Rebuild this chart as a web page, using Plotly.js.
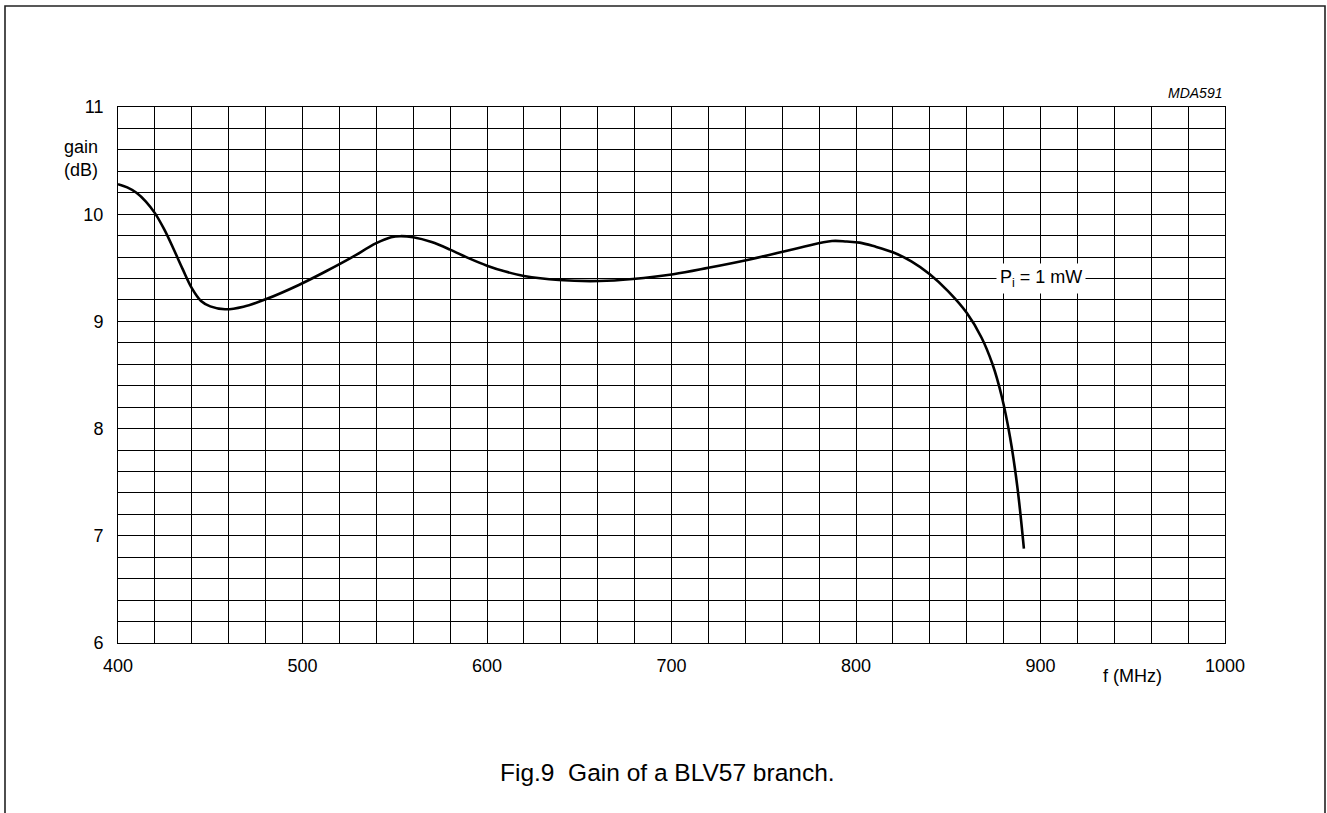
<!DOCTYPE html>
<html>
<head>
<meta charset="utf-8">
<script src="https://cdn.plot.ly/plotly-3.0.1.min.js"></script>
<style>
  html, body { margin: 0; padding: 0; background: #fff; }
  #chart { width: 1327px; height: 813px; }
</style>
</head>
<body>
<div id="chart"></div>
<script>
// Frequency (MHz) and gain (dB)
const freqMHz = [400, 405, 410, 415, 420, 425, 430, 435, 440, 445, 450, 458, 468, 480, 498, 513, 526, 540, 548, 553, 560, 570, 580, 590, 600, 610, 620, 639, 661, 679, 701, 720, 743, 770, 787, 795, 802, 810, 820, 830, 840, 850, 860, 868, 874, 879, 883.5, 887.5, 891];
const gainDB  = [10.28, 10.25, 10.20, 10.12, 10.01, 9.86, 9.68, 9.49, 9.31, 9.19, 9.14, 9.113, 9.137, 9.206, 9.34, 9.47, 9.59, 9.73, 9.785, 9.795, 9.785, 9.74, 9.67, 9.59, 9.52, 9.465, 9.424, 9.386, 9.377, 9.396, 9.44, 9.50, 9.58, 9.69, 9.75, 9.745, 9.735, 9.70, 9.645, 9.56, 9.44, 9.28, 9.08, 8.85, 8.60, 8.30, 7.92, 7.45, 6.88];

const xTickVals = [400, 500, 600, 700, 800, 900, 1000];
const xTickText = ['400', '500', '600', '700', '800', '900', '1000'];
const yTickVals = [6, 7, 8, 9, 10, 11];
const yTickText = ['6', '7', '8', '9', '10', '11'];

const curveLabel = 'P<sub>i</sub> = 1 mW';
const curveLabelPos = [900, 9.4];
const figCode = 'MDA591';
const caption = 'Fig.9\u00a0\u00a0Gain of a BLV57 branch.';
const xTitle = 'f (MHz)';
const yTitle = 'gain<br>(dB)';

const FONT = 'Liberation Sans, Arial, Helvetica, sans-serif';

const trace = {
  x: freqMHz,
  y: gainDB,
  type: 'scatter',
  mode: 'lines',
  line: { color: '#000', width: 2.6, shape: 'spline', smoothing: 1 },
  hoverinfo: 'skip',
  showlegend: false
};

const L = 118, R = 102, T = 107, B = 170, W = 1327, H = 813;
const pw = W - L - R, ph = H - T - B;
const px2x = p => (p - L) / pw;
const py2y = p => (H - B - p) / ph;

const layout = {
  width: W,
  height: H,
  margin: { l: L, r: R, t: T, b: B, pad: 0 },
  paper_bgcolor: '#fff',
  plot_bgcolor: '#fff',
  font: { family: FONT, size: 18, color: '#000' },
  showlegend: false,
  xaxis: {
    range: [400, 1000],
    tickmode: 'array',
    tickvals: xTickVals,
    ticktext: xTickText,
    showgrid: true,
    gridcolor: '#000',
    gridwidth: 1,
    minor: { dtick: 20, tick0: 400, showgrid: true, gridcolor: '#000', gridwidth: 1, ticks: '' },
    ticks: '',
    showline: true,
    mirror: true,
    linecolor: '#000',
    linewidth: 1,
    zeroline: false,
    tickfont: { family: FONT, size: 18, color: '#000' },
    ticklabelstandoff: 6,
    fixedrange: true
  },
  yaxis: {
    range: [6, 11],
    tickmode: 'array',
    tickvals: yTickVals,
    ticktext: yTickText,
    showgrid: true,
    gridcolor: '#000',
    gridwidth: 1,
    minor: { dtick: 0.2, tick0: 6, showgrid: true, gridcolor: '#000', gridwidth: 1, ticks: '' },
    ticks: '',
    showline: true,
    mirror: true,
    linecolor: '#000',
    linewidth: 1,
    zeroline: false,
    tickfont: { family: FONT, size: 18, color: '#000' },
    ticklabelstandoff: 10,
    fixedrange: true
  },
  shapes: [
    {
      type: 'rect', xref: 'paper', yref: 'paper',
      x0: px2x(5), x1: px2x(1325), y0: py2y(830), y1: py2y(6),
      line: { color: '#222', width: 1.6 }, fillcolor: 'rgba(0,0,0,0)', layer: 'below'
    }
  ],
  annotations: [
    {
      x: curveLabelPos[0], y: curveLabelPos[1], xref: 'x', yref: 'y',
      text: curveLabel, showarrow: false,
      font: { family: FONT, size: 18, color: '#000' },
      bgcolor: '#fff', borderpad: 3, xanchor: 'center', yanchor: 'middle'
    },
    {
      x: px2x(1224), y: py2y(93), xref: 'paper', yref: 'paper',
      text: '<i>' + figCode + '</i>', showarrow: false,
      font: { family: FONT, size: 14, color: '#000' },
      xanchor: 'right', yanchor: 'middle'
    },
    {
      x: px2x(100), y: py2y(159), xref: 'paper', yref: 'paper',
      text: yTitle, showarrow: false, align: 'right',
      font: { family: FONT, size: 18, color: '#000' },
      xanchor: 'right', yanchor: 'middle'
    },
    {
      x: px2x(1132), y: py2y(676), xref: 'paper', yref: 'paper',
      text: xTitle, showarrow: false,
      font: { family: FONT, size: 18, color: '#000' },
      xanchor: 'center', yanchor: 'middle'
    },
    {
      x: px2x(667), y: py2y(772), xref: 'paper', yref: 'paper',
      text: caption, showarrow: false,
      font: { family: FONT, size: 24.5, color: '#000' },
      xanchor: 'center', yanchor: 'middle'
    }
  ]
};

Plotly.newPlot('chart', [trace], layout, { staticPlot: true, displayModeBar: false });
</script>
</body>
</html>
